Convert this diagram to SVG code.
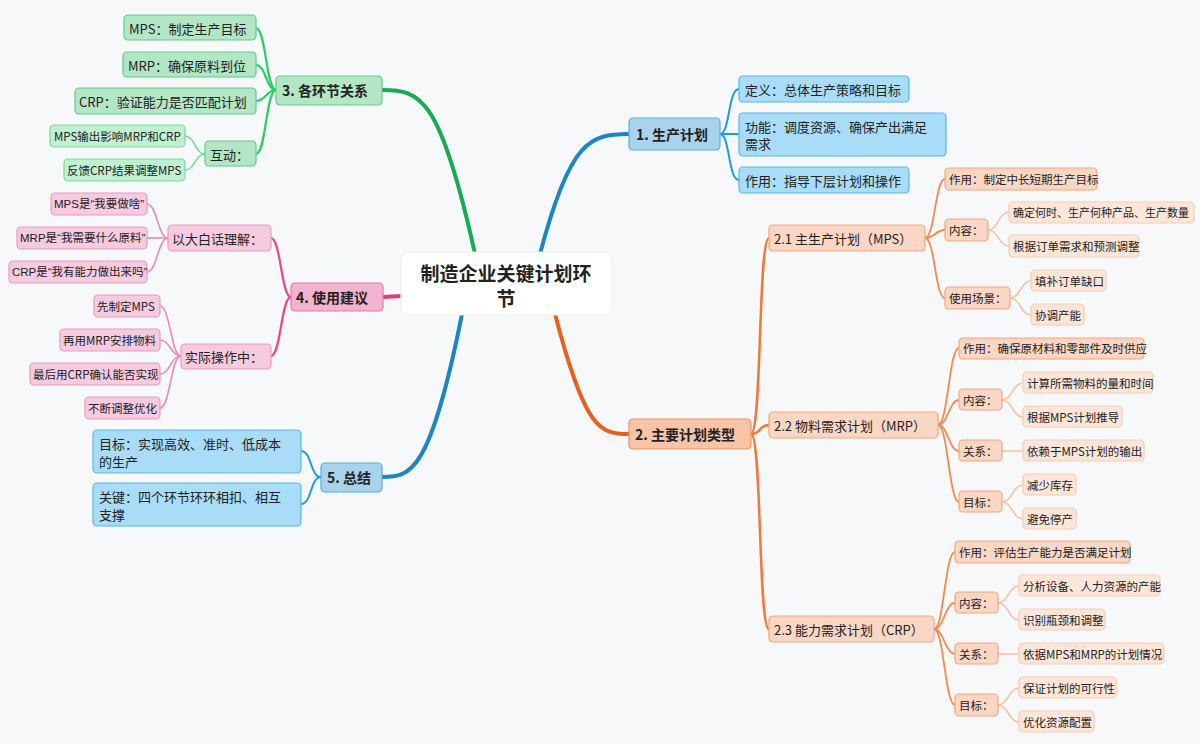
<svg xmlns="http://www.w3.org/2000/svg" width="1200" height="744" viewBox="0 0 1200 744">
<style>
text{font-family:"Noto Sans CJK SC","Noto Sans",sans-serif;fill:#222;dominant-baseline:central}
.t1{font-size:14px;font-weight:bold}
.t2{font-size:13px}
.t3{font-size:11.5px}
.q{font-family:"Liberation Sans","Noto Sans CJK SC",sans-serif}
.c{fill:none;stroke-linecap:round}
.bl1{fill:#a9d3ec;stroke:#5aaedd}
.bl2{fill:#a8dcf7;stroke:#5ab8e8}
.or1{fill:#f7c4a8;stroke:#f0915a}
.or2{fill:#fad6c4;stroke:#f5a67a}
.or3{fill:#fce6da;stroke:#f9cbb0}
.gr1{fill:#b3e6c5;stroke:#5dce88}
.gr2{fill:#c0f0d0;stroke:#7ada9e}
.pk1{fill:#f2b3cf;stroke:#e07aa8}
.pk2{fill:#f6cadf;stroke:#e99bbe}
rect{stroke-width:1.2}
</style>
<rect width="1200" height="744" fill="#f7f8fa"/>
<g id="connectors">
<path class="c" stroke="#1a86c8" stroke-width="4" d="M540,254 C570,140 590,134 629,134"/>
<path class="c" stroke="#e8601c" stroke-width="4" d="M555,314 C585,430 600,434 629,434"/>
<path class="c" stroke="#1aaa55" stroke-width="4" d="M475,254 C440,95 420,90 382,90"/>
<path class="c" stroke="#e03c82" stroke-width="4" d="M401,296 L383,297"/>
<path class="c" stroke="#1a86c8" stroke-width="4" d="M462,314 C430,475 410,477 382,477"/>
<g stroke="#1a9ee0" stroke-width="2" fill="none">
<path d="M720,134 C730,134 728,89 739,89"/><path d="M720,134 L739,134"/><path d="M720,134 C730,134 728,180 739,180"/>
<path d="M321,477 C310,477 312,451 301,451"/><path d="M321,477 C310,477 312,504 301,504"/>
</g>
<g stroke="#f07838" stroke-width="2.5" fill="none">
<path d="M751,434 C762,434 758,238 769,238"/><path d="M751,434 C762,434 758,425 769,425"/><path d="M751,434 C762,434 758,629 769,629"/>
</g>
<g stroke="#f58a50" stroke-width="1.8" fill="none">
<path d="M925,238 C935,238 935,179 945,179"/><path d="M925,238 C935,238 935,230 945,230"/><path d="M925,238 C935,238 935,298 945,298"/>
<path d="M938,425 C948,425 949,348 959,348"/><path d="M938,425 C948,425 949,400 959,400"/><path d="M938,425 C948,425 949,451 959,451"/><path d="M938,425 C948,425 949,502 959,502"/>
<path d="M934,629 C944,629 945,552 955,552"/><path d="M934,629 C944,629 945,603 955,603"/><path d="M934,629 C944,629 945,654 955,654"/><path d="M934,629 C944,629 945,705 955,705"/>
</g>
<g stroke="#f8c3a5" stroke-width="1.5" fill="none">
<path d="M988,230 C998,230 999,212 1009,212"/><path d="M988,230 C998,230 999,246 1009,246"/>
<path d="M1010,298 C1020,298 1021,281 1031,281"/><path d="M1010,298 C1020,298 1021,315 1031,315"/>
<path d="M1002,400 C1012,400 1013,383 1023,383"/><path d="M1002,400 C1012,400 1013,417 1023,417"/><path d="M1002,451 L1023,451"/>
<path d="M1002,502 C1012,502 1013,485 1023,485"/><path d="M1002,502 C1012,502 1013,519 1023,519"/>
<path d="M998,603 C1008,603 1009,586 1019,586"/><path d="M998,603 C1008,603 1009,620 1019,620"/><path d="M998,654 L1019,654"/>
<path d="M998,705 C1008,705 1009,688 1019,688"/><path d="M998,705 C1008,705 1009,722 1019,722"/>
</g>
<g stroke="#2ecc66" stroke-width="2.2" fill="none">
<path d="M276,90 C266,90 266,28 256,28"/><path d="M276,90 C266,90 266,65 256,65"/><path d="M276,90 C266,90 266,101 256,101"/><path d="M276,90 C266,90 266,154 256,154"/>
</g>
<g stroke="#6fe094" stroke-width="1.6" fill="none">
<path d="M205,154 C195,154 195,136 185,136"/><path d="M205,154 C195,154 195,170 185,170"/>
</g>
<g stroke="#e44a8e" stroke-width="2.2" fill="none">
<path d="M291,297 C281,297 281,238 271,238"/><path d="M291,297 C281,297 281,356 271,356"/>
</g>
<g stroke="#ec8ab5" stroke-width="1.6" fill="none">
<path d="M168,238 C158,238 157,204 147,204"/><path d="M168,238 L147,238"/><path d="M168,238 C158,238 157,272 147,272"/>
<path d="M181,356 C171,356 170,306 160,306"/><path d="M181,356 C171,356 170,340 160,340"/><path d="M181,356 C171,356 170,374 160,374"/><path d="M181,356 C171,356 170,408 160,408"/>
</g>
</g>
<g id="center"><rect x="401" y="252" width="211" height="63" rx="8" fill="#fff" stroke="#eee"/><text x="506" y="272" text-anchor="middle" style="font-size:19px;font-weight:bold">制造企业关键计划环</text><text x="506" y="297" text-anchor="middle" style="font-size:19px;font-weight:bold">节</text></g>
<g id="n1"><rect class="bl1" x="629" y="118" width="91" height="32" rx="4"/><text class="t1" x="636" y="134">1. 生产计划</text></g>
<g id="n1a"><rect class="bl2" x="739" y="76" width="170" height="26" rx="4"/><text class="t2" x="745" y="89">定义：总体生产策略和目标</text></g>
<g id="n1b"><rect class="bl2" x="739" y="113" width="207" height="43" rx="4"/><text class="t2" x="745" y="126">功能：调度资源、确保产出满足</text><text class="t2" x="745" y="143">需求</text></g>
<g id="n1c"><rect class="bl2" x="739" y="167" width="170" height="26" rx="4"/><text class="t2" x="745" y="180">作用：指导下层计划和操作</text></g>
<g id="n2"><rect class="or1" x="629" y="419" width="122" height="30" rx="4"/><text class="t1" x="635" y="434">2. 主要计划类型</text></g>
<g id="n21"><rect class="or2" x="769" y="225" width="156" height="26" rx="4"/><text class="t2" x="774" y="238">2.1 主生产计划（MPS）</text></g>
<g id="n22"><rect class="or2" x="769" y="412" width="169" height="26" rx="4"/><text class="t2" x="774" y="425">2.2 物料需求计划（MRP）</text></g>
<g id="n23"><rect class="or2" x="769" y="616" width="165" height="26" rx="4"/><text class="t2" x="774" y="629">2.3 能力需求计划（CRP）</text></g>
<g id="n211"><rect class="or2" x="945" y="168" width="152" height="22" rx="4"/><text class="t3" x="949" y="179">作用：制定中长短期生产目标</text></g>
<g id="n212"><rect class="or2" x="945" y="219" width="43" height="22" rx="4"/><text class="t3" x="949" y="230">内容：</text></g>
<g id="n213"><rect class="or2" x="945" y="287" width="65" height="22" rx="4"/><text class="t3" x="949" y="298">使用场景：</text></g>
<g id="n2121"><rect class="or3" x="1009" y="202" width="185" height="21" rx="4"/><text class="t3" x="1013" y="212" style="font-size:11px">确定何时、生产何种产品、生产数量</text></g>
<g id="n2122"><rect class="or3" x="1009" y="235" width="130" height="22" rx="4"/><text class="t3" x="1013" y="246">根据订单需求和预测调整</text></g>
<g id="n2131"><rect class="or3" x="1031" y="270" width="75" height="21" rx="4"/><text class="t3" x="1035" y="281">填补订单缺口</text></g>
<g id="n2132"><rect class="or3" x="1031" y="304" width="53" height="21" rx="4"/><text class="t3" x="1035" y="315">协调产能</text></g>
<g id="n221"><rect class="or2" x="959" y="338" width="185" height="21" rx="4"/><text class="t3" x="963" y="348">作用：确保原材料和零部件及时供应</text></g>
<g id="n222"><rect class="or2" x="959" y="389" width="43" height="21" rx="4"/><text class="t3" x="963" y="400">内容：</text></g>
<g id="n223"><rect class="or2" x="959" y="440" width="43" height="21" rx="4"/><text class="t3" x="963" y="451">关系：</text></g>
<g id="n224"><rect class="or2" x="959" y="491" width="43" height="21" rx="4"/><text class="t3" x="963" y="502">目标：</text></g>
<g id="n2221"><rect class="or3" x="1023" y="372" width="130" height="21" rx="4"/><text class="t3" x="1027" y="383">计算所需物料的量和时间</text></g>
<g id="n2222"><rect class="or3" x="1023" y="406" width="99" height="21" rx="4"/><text class="t3" x="1027" y="417">根据MPS计划推导</text></g>
<g id="n2231"><rect class="or3" x="1023" y="440" width="121" height="21" rx="4"/><text class="t3" x="1027" y="451">依赖于MPS计划的输出</text></g>
<g id="n2241"><rect class="or3" x="1023" y="474" width="53" height="21" rx="4"/><text class="t3" x="1027" y="485">减少库存</text></g>
<g id="n2242"><rect class="or3" x="1023" y="508" width="53" height="21" rx="4"/><text class="t3" x="1027" y="519">避免停产</text></g>
<g id="n231"><rect class="or2" x="955" y="541" width="175" height="22" rx="4"/><text class="t3" x="959" y="552">作用：评估生产能力是否满足计划</text></g>
<g id="n232"><rect class="or2" x="955" y="592" width="43" height="21" rx="4"/><text class="t3" x="959" y="603">内容：</text></g>
<g id="n233"><rect class="or2" x="955" y="643" width="43" height="21" rx="4"/><text class="t3" x="959" y="654">关系：</text></g>
<g id="n234"><rect class="or2" x="955" y="694" width="43" height="22" rx="4"/><text class="t3" x="959" y="705">目标：</text></g>
<g id="n2321"><rect class="or3" x="1019" y="575" width="141" height="21" rx="4"/><text class="t3" x="1023" y="586">分析设备、人力资源的产能</text></g>
<g id="n2322"><rect class="or3" x="1019" y="609" width="86" height="21" rx="4"/><text class="t3" x="1023" y="620">识别瓶颈和调整</text></g>
<g id="n2331"><rect class="or3" x="1019" y="643" width="145" height="21" rx="4"/><text class="t3" x="1023" y="654">依据MPS和MRP的计划情况</text></g>
<g id="n2341"><rect class="or3" x="1019" y="677" width="97" height="21" rx="4"/><text class="t3" x="1023" y="688">保证计划的可行性</text></g>
<g id="n2342"><rect class="or3" x="1019" y="711" width="75" height="21" rx="4"/><text class="t3" x="1023" y="722">优化资源配置</text></g>
<g id="n3"><rect class="gr1" x="276" y="76" width="106" height="29" rx="4"/><text class="t1" x="282" y="90">3. 各环节关系</text></g>
<g id="n31"><rect class="gr1" x="124" y="15" width="132" height="25" rx="4"/><text class="t2" x="129" y="28">MPS：制定生产目标</text></g>
<g id="n32"><rect class="gr1" x="123" y="52" width="133" height="25" rx="4"/><text class="t2" x="128" y="65">MRP：确保原料到位</text></g>
<g id="n33"><rect class="gr1" x="75" y="88" width="181" height="26" rx="4"/><text class="t2" x="79" y="101">CRP：验证能力是否匹配计划</text></g>
<g id="n34"><rect class="gr1" x="205" y="141" width="51" height="25" rx="4"/><text class="t2" x="210" y="154">互动：</text></g>
<g id="n341"><rect class="gr2" x="50" y="125" width="135" height="22" rx="4"/><text class="t3" x="54" y="136">MPS输出影响MRP和CRP</text></g>
<g id="n342"><rect class="gr2" x="64" y="159" width="121" height="22" rx="4"/><text class="t3" x="67" y="170">反馈CRP结果调整MPS</text></g>
<g id="n4"><rect class="pk1" x="291" y="283" width="92" height="28" rx="4"/><text class="t1" x="296" y="297">4. 使用建议</text></g>
<g id="n41"><rect class="pk2" x="168" y="225" width="103" height="26" rx="4"/><text class="t2" x="172" y="238">以大白话理解：</text></g>
<g id="n42"><rect class="pk2" x="181" y="344" width="90" height="25" rx="4"/><text class="t2" x="185" y="356">实际操作中：</text></g>
<g id="n411"><rect class="pk2" x="51" y="193" width="96" height="22" rx="4"/><text class="t3 q" x="54" y="204">MPS是“我要做啥”</text></g>
<g id="n412"><rect class="pk2" x="17" y="227" width="130" height="22" rx="4"/><text class="t3 q" x="20" y="238">MRP是“我需要什么原料”</text></g>
<g id="n413"><rect class="pk2" x="9" y="261" width="138" height="22" rx="4"/><text class="t3 q" x="12" y="272">CRP是“我有能力做出来吗”</text></g>
<g id="n421"><rect class="pk2" x="94" y="295" width="66" height="22" rx="4"/><text class="t3" x="97" y="306">先制定MPS</text></g>
<g id="n422"><rect class="pk2" x="60" y="329" width="100" height="22" rx="4"/><text class="t3" x="63" y="340">再用MRP安排物料</text></g>
<g id="n423"><rect class="pk2" x="30" y="363" width="130" height="22" rx="4"/><text class="t3" x="33" y="374">最后用CRP确认能否实现</text></g>
<g id="n424"><rect class="pk2" x="85" y="397" width="75" height="22" rx="4"/><text class="t3" x="88" y="408">不断调整优化</text></g>
<g id="n5"><rect class="bl1" x="321" y="463" width="61" height="29" rx="4"/><text class="t1" x="327" y="477">5. 总结</text></g>
<g id="n51"><rect class="bl2" x="93" y="430" width="208" height="43" rx="4"/><text class="t2" x="99" y="443">目标：实现高效、准时、低成本</text><text class="t2" x="99" y="461">的生产</text></g>
<g id="n52"><rect class="bl2" x="93" y="483" width="208" height="43" rx="4"/><text class="t2" x="99" y="496">关键：四个环节环环相扣、相互</text><text class="t2" x="99" y="514">支撑</text></g>
</svg>
